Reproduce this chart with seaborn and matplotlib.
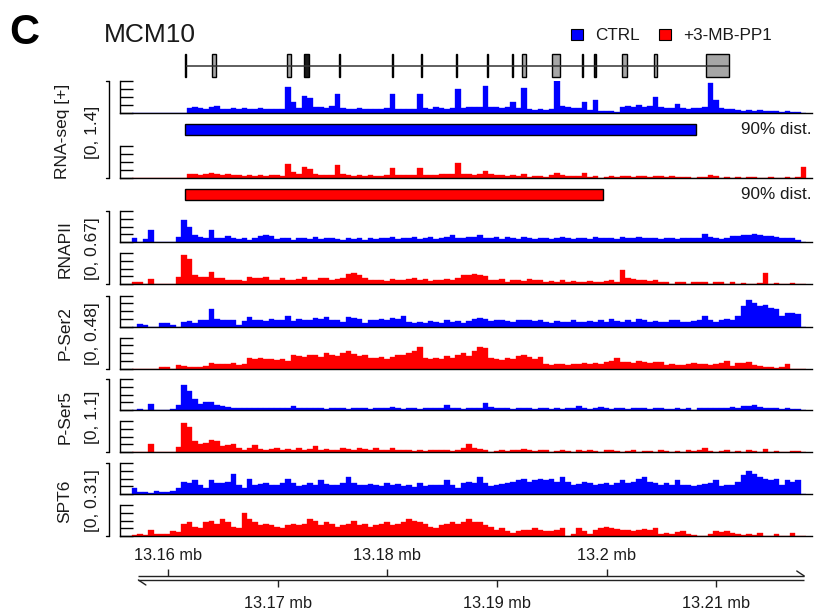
import numpy as np
import pandas as pd
import matplotlib
matplotlib.use("Agg")
import matplotlib.pyplot as plt
import seaborn as sns
from matplotlib.patches import Rectangle

sns.set_theme(style="white")
plt.rcParams["font.family"] = ["Liberation Sans", "DejaVu Sans"]

# ---------------- data ----------------
BIN_START = 13.1567      # mb
BIN_SIZE = 0.0005        # mb
N_BINS = 123

gene_name = "MCM10"
gene_start, gene_end = 13.16160, 13.21116
exon_starts = [13.16155, 13.16404, 13.17088, 13.17240, 13.17559, 13.18042, 13.18306,
               13.18625, 13.18908, 13.19136, 13.19228, 13.19505, 13.19774, 13.19886,
               13.20135, 13.20430, 13.20902]
exon_ends = [13.16168, 13.16434, 13.17124, 13.17283, 13.17571, 13.18054, 13.18318,
             13.18637, 13.18920, 13.19148, 13.19268, 13.19572, 13.19786, 13.19898,
             13.20184, 13.20461, 13.21116]
exon_fill = ["k", "#a6a6a6", "#a6a6a6", "k", "k", "k", "k", "k", "k", "k",
             "#a6a6a6", "#a6a6a6", "k", "k", "#a6a6a6", "#a6a6a6", "#a6a6a6"]

dist_ctrl = (13.16155, 13.20813)
dist_drug = (13.16155, 13.19965)
dist_label = "90% dist."

ticks_top = [13.16, 13.18, 13.20]
ticks_bottom = [13.17, 13.19, 13.21]
ruler = (13.1573, 13.2180)

conditions = ["CTRL", "+3-MB-PP1"]
colors = ["#0000ff", "#ff0000"]

rnaseq_ctrl = [0, 0, 0, 0, 0, 0, 0, 0, 0, 0,
               15, 18, 16, 14, 20, 22, 14, 12, 15, 13,
               16, 12, 14, 15, 12, 14, 13, 12, 82, 35,
               16, 52, 48, 20, 18, 16, 22, 60, 16, 14,
               13, 15, 12, 14, 13, 12, 15, 58, 14, 12,
               13, 12, 58, 16, 14, 20, 15, 14, 16, 74,
               17, 20, 19, 18, 84, 18, 20, 17, 18, 35,
               15, 77, 12, 10, 11, 9, 12, 100, 22, 18,
               17, 16, 35, 8, 42, 6, 5, 6, 4, 20,
               22, 18, 24, 20, 22, 50, 18, 15, 16, 27,
               16, 14, 15, 16, 18, 95, 40, 15, 12, 14,
               8, 7, 9, 6, 8, 5, 7, 6, 4, 5,
               3, 4, 0]
rnaseq_drug = [0, 0, 0, 0, 0, 0, 0, 0, 0, 0,
               12, 14, 10, 13, 15, 12, 10, 11, 8, 9,
               6, 8, 7, 8, 6, 9, 8, 7, 43, 18,
               14, 35, 28, 12, 10, 8, 9, 40, 12, 8,
               7, 9, 6, 8, 7, 6, 8, 30, 10, 8,
               9, 10, 31, 8, 10, 9, 11, 12, 14, 47,
               13, 12, 10, 14, 22, 11, 9, 8, 6, 10,
               7, 12, 4, 6, 5, 3, 8, 15, 9, 6,
               7, 5, 15, 3, 5, 0, 4, 5, 3, 6,
               5, 4, 6, 5, 4, 6, 5, 4, 5, 3,
               4, 3, 0, 4, 3, 8, 5, 0, 4, 0,
               3, 0, 4, 3, 0, 0, 3, 0, 0, 3,
               0, 4, 33]

rnapii_ctrl = [14, 0, 11, 38, 0, 0, 0, 0, 15, 70,
               50, 22, 15, 14, 38, 14, 12, 20, 12, 10,
               12, 8, 14, 20, 22, 20, 10, 14, 12, 8,
               12, 14, 10, 16, 10, 12, 14, 10, 8, 12,
               10, 12, 8, 12, 10, 14, 12, 16, 10, 14,
               12, 16, 10, 12, 15, 11, 13, 16, 24, 12,
               14, 16, 15, 22, 14, 12, 16, 11, 15, 13,
               10, 16, 12, 11, 14, 12, 10, 13, 15, 12,
               11, 14, 12, 10, 15, 13, 14, 12, 11, 16,
               14, 12, 15, 13, 12, 14, 11, 13, 12, 10,
               13, 12, 14, 12, 27, 16, 12, 10, 14, 18,
               20, 22, 24, 27, 22, 20, 18, 16, 14, 12,
               14, 8, 0]
rnapii_drug = [8, 5, 0, 15, 0, 0, 0, 0, 22, 95,
               80, 30, 22, 22, 38, 20, 18, 14, 12, 14,
               10, 22, 20, 18, 24, 14, 12, 18, 14, 12,
               16, 22, 12, 14, 20, 18, 12, 16, 20, 32,
               36, 30, 18, 14, 12, 12, 10, 16, 12, 14,
               16, 18, 12, 15, 10, 14, 12, 16, 13, 18,
               28, 30, 33, 30, 26, 14, 12, 15, 8, 14,
               12, 10, 16, 12, 14, 6, 10, 8, 12, 6,
               10, 8, 5, 10, 8, 6, 10, 12, 8, 45,
               18, 16, 14, 12, 10, 14, 8, 5, 0, 8,
               6, 0, 7, 5, 8, 0, 6, 8, 0, 5,
               0, 4, 0, 0, 4, 35, 0, 3, 0, 0,
               3, 0, 0]

pser2_ctrl = [0, 8, 4, 0, 0, 12, 10, 6, 0, 15,
              18, 10, 20, 22, 55, 25, 22, 20, 20, 5,
              18, 30, 20, 22, 18, 25, 20, 22, 35, 18,
              25, 22, 20, 28, 25, 30, 20, 22, 15, 30,
              28, 25, 12, 20, 22, 24, 22, 28, 24, 35,
              15, 12, 14, 10, 18, 16, 10, 20, 15, 18,
              12, 18, 25, 28, 25, 18, 22, 20, 18, 15,
              20, 22, 20, 18, 22, 14, 12, 18, 15, 16,
              20, 15, 16, 18, 14, 20, 14, 25, 18, 16,
              20, 15, 25, 22, 16, 18, 15, 14, 20, 22,
              14, 16, 18, 22, 35, 20, 15, 22, 25, 20,
              35, 65, 85, 75, 65, 70, 60, 55, 35, 42,
              45, 40, 0]
pser2_drug = [0, 0, 0, 0, 0, 5, 4, 0, 10, 8,
              4, 5, 6, 8, 18, 15, 14, 16, 18, 12,
              14, 35, 30, 35, 32, 30, 28, 30, 25, 45,
              40, 38, 42, 45, 38, 50, 45, 40, 50, 55,
              48, 40, 42, 35, 35, 38, 30, 38, 42, 45,
              50, 55, 70, 35, 30, 35, 30, 40, 35, 45,
              50, 40, 55, 70, 65, 35, 30, 28, 35, 30,
              40, 42, 38, 30, 38, 15, 12, 14, 15, 12,
              14, 16, 18, 15, 18, 16, 22, 25, 35, 22,
              22, 18, 25, 20, 18, 20, 22, 12, 14, 10,
              12, 14, 18, 16, 14, 10, 15, 18, 25, 8,
              18, 18, 20, 10, 8, 6, 5, 3, 4, 15,
              0, 0, 0]

pser5_ctrl = [0, 3, 0, 20, 0, 0, 0, 3, 15, 80,
              60, 35, 20, 25, 25, 15, 12, 10, 8, 5,
              5, 6, 6, 5, 6, 5, 6, 5, 8, 14,
              8, 6, 5, 6, 5, 4, 6, 5, 5, 4,
              6, 5, 5, 4, 6, 5, 6, 10, 5, 4,
              5, 6, 4, 5, 6, 5, 8, 15, 6, 5,
              4, 6, 5, 8, 22, 10, 6, 5, 6, 4,
              5, 6, 5, 4, 6, 5, 3, 5, 4, 6,
              5, 12, 5, 4, 5, 10, 5, 4, 6, 5,
              4, 6, 5, 6, 4, 5, 6, 4, 3, 5,
              4, 6, 0, 5, 6, 5, 7, 6, 8, 10,
              8, 12, 14, 15, 10, 8, 6, 5, 4, 5,
              3, 4, 0]
pser5_drug = [0, 0, 0, 25, 0, 0, 0, 0, 15, 95,
              80, 35, 25, 30, 40, 35, 20, 22, 25, 12,
              8, 12, 22, 10, 8, 10, 12, 6, 10, 8,
              12, 6, 10, 18, 8, 10, 6, 8, 12, 10,
              8, 12, 10, 8, 12, 8, 6, 12, 8, 5,
              6, 4, 5, 3, 5, 6, 8, 5, 4, 6,
              12, 25, 12, 10, 6, 0, 4, 5, 3, 6,
              8, 10, 5, 4, 6, 5, 0, 4, 5, 3,
              0, 5, 4, 6, 3, 0, 5, 8, 4, 0,
              3, 5, 0, 4, 3, 0, 5, 3, 0, 4,
              0, 5, 3, 6, 12, 4, 0, 3, 5, 0,
              4, 0, 5, 3, 0, 10, 0, 3, 0, 0,
              4, 3, 0]

spt6_ctrl = [20, 5, 6, 4, 10, 8, 8, 10, 20, 40,
             35, 45, 30, 18, 45, 35, 35, 38, 65, 30,
             20, 50, 30, 32, 35, 30, 28, 35, 50, 35,
             25, 30, 35, 30, 45, 32, 30, 28, 35, 55,
             35, 30, 28, 32, 30, 25, 35, 30, 32, 25,
             30, 22, 35, 25, 28, 30, 28, 45, 30, 20,
             35, 40, 35, 55, 35, 25, 30, 32, 35, 40,
             45, 50, 40, 45, 50, 45, 50, 40, 55, 40,
             30, 32, 40, 35, 30, 32, 35, 30, 35, 45,
             35, 40, 50, 55, 40, 35, 30, 35, 30, 45,
             30, 28, 25, 30, 32, 35, 45, 25, 28, 30,
             40, 60, 75, 65, 55, 50, 45, 50, 30, 45,
             40, 45, 0]
spt6_drug = [3, 5, 4, 20, 5, 6, 6, 15, 12, 40,
             45, 30, 25, 45, 50, 40, 55, 45, 30, 25,
             75, 55, 45, 35, 40, 35, 30, 25, 35, 40,
             35, 40, 55, 50, 35, 45, 40, 30, 35, 40,
             50, 35, 40, 30, 35, 40, 45, 35, 40, 45,
             55, 50, 45, 40, 30, 25, 35, 40, 45, 40,
             45, 55, 45, 45, 35, 30, 20, 25, 15, 10,
             15, 18, 20, 25, 20, 15, 15, 18, 25, 0,
             5, 25, 15, 5, 18, 25, 30, 25, 22, 18,
             20, 15, 20, 22, 20, 25, 8, 10, 5, 12,
             15, 8, 3, 0, 0, 5, 15, 12, 15, 10,
             5, 4, 8, 3, 10, 0, 0, 6, 0, 0,
             10, 0, 0]

chip_tracks = [
    ("RNAPII", "[0, 0.67]", rnapii_ctrl, rnapii_drug),
    ("P-Ser2", "[0, 0.48]", pser2_ctrl, pser2_drug),
    ("P-Ser5", "[0, 1.1]", pser5_ctrl, pser5_drug),
    ("SPT6", "[0, 0.31]", spt6_ctrl, spt6_drug),
]

# ---------------- layout ----------------
W, H = 818, 615
VIEW = (13.144685, 13.219253)          # genomic span of the full figure width
def mb_at(px):
    return VIEW[0] + px / W * (VIEW[1] - VIEW[0])
MB_PER_PX = (VIEW[1] - VIEW[0]) / W

TRACK_X0, TRACK_X1 = 119.5, 812
edges = [BIN_START + BIN_SIZE * i for i in range(N_BINS + 1)]
centers = [(edges[i] + edges[i + 1]) / 2 for i in range(N_BINS)]

fig = plt.figure(figsize=(W / 100, H / 100), dpi=100)

pix = fig.add_axes([0, 0, 1, 1])
pix.set_xlim(0, W); pix.set_ylim(H, 0); pix.axis("off")
gen = fig.add_axes([0, 0, 1, 1])
gen.set_xlim(*VIEW); gen.set_ylim(H, 0); gen.axis("off")
gen.patch.set_alpha(0)

TXT = "#1a1a1a"

def add_track(top, bottom, vals, color):
    ax = fig.add_axes([TRACK_X0 / W, 1 - bottom / H, (TRACK_X1 - TRACK_X0) / W, (bottom - top) / H])
    ax.patch.set_alpha(0)
    df = pd.DataFrame({"pos": centers, "signal": vals})
    sns.histplot(data=df, x="pos", weights="signal", bins=edges, element="bars",
                 fill=True, color=color, edgecolor=color, linewidth=0.25, alpha=1, ax=ax)
    ax.set_xlim(mb_at(TRACK_X0), mb_at(TRACK_X1))
    ax.set_ylim(0, 100)
    ax.set_xlabel(""); ax.set_ylabel("")
    ax.set_xticks([])
    ax.set_yticks([0, 25, 50, 75, 100])
    ax.tick_params(axis="y", left=True, direction="in", length=9, width=1.0,
                   color="black", labelleft=False)
    for s in ["top", "right"]:
        ax.spines[s].set_visible(False)
    for s in ["left", "bottom"]:
        ax.spines[s].set_color("black")
        ax.spines[s].set_linewidth(1.0)
    return ax

def bracket(top, bottom):
    x = 108.5
    pix.plot([x, x], [top, bottom], color="black", lw=1.0)
    pix.plot([x - 3, x], [top, top], color="black", lw=1.0)
    pix.plot([x - 3, x], [bottom, bottom], color="black", lw=1.0)

# panel letter, gene name, legend
pix.text(9, 33, "C", fontsize=30, fontweight="bold", color="black", va="center", ha="left")
pix.text(104, 35, gene_name, fontsize=19, color=TXT, va="center", ha="left")
leg_x = [571, 659]
for (lx, lab, col) in zip(leg_x, conditions, colors):
    pix.add_patch(Rectangle((lx, 29), 12, 11, facecolor=col, edgecolor="black", lw=0.8))
    pix.text(lx + 24, 35, lab, fontsize=12.3, color=TXT, va="center", ha="left")

# gene model
GENE_Y = 65.5
gen.hlines(GENE_Y, gene_start, gene_end, color="#333333", lw=1.1)
for s, e, fc in zip(exon_starts, exon_ends, exon_fill):
    gen.add_patch(Rectangle((s, GENE_Y - 11.5), e - s, 23, facecolor=fc,
                            edgecolor="black", lw=1.0))

# RNA-seq tracks and distance bars
rna_tops = [81, 146]
rna_bottoms = [113, 178]
add_track(rna_tops[0], rna_bottoms[0], rnaseq_ctrl, colors[0])
add_track(rna_tops[1], rna_bottoms[1], rnaseq_drug, colors[1])
for (d, col, yc) in zip([dist_ctrl, dist_drug], colors, [129.5, 194.5]):
    gen.add_patch(Rectangle((d[0], yc - 5.5), d[1] - d[0], 11, facecolor=col,
                            edgecolor="black", lw=1.0))
    pix.text(741, yc, dist_label, fontsize=12.3, color=TXT, va="center", ha="left")
bracket(rna_tops[0], rna_bottoms[1])
pix.text(62, 131, "RNA-seq [+]", rotation=90, fontsize=12.5, color=TXT, va="center", ha="center")
pix.text(92, 132, "[0, 1.4]", rotation=90, fontsize=12.5, color=TXT, va="center", ha="center")

# ChIP tracks
pair_tops = [211, 295.5, 379, 463]
TRACK_H = 31
PAIR_GAP = 42
for (label, rng, ctrl, drug), top in zip(chip_tracks, pair_tops):
    add_track(top, top + TRACK_H, ctrl, colors[0])
    add_track(top + PAIR_GAP, top + PAIR_GAP + TRACK_H, drug, colors[1])
    bottom = top + PAIR_GAP + TRACK_H
    bracket(top, bottom)
    mid = (top + bottom) / 2 + 1.5
    pix.text(65, mid, label, rotation=90, fontsize=12.5, color=TXT, va="center", ha="center")
    pix.text(92, mid, rng, rotation=90, fontsize=12.5, color=TXT, va="center", ha="center")

# genomic ruler
Y_UP, Y_DN = 576, 580
gen.hlines(Y_UP, ruler[0], ruler[1], color="#222222", lw=1.0)
gen.hlines(Y_DN, ruler[0], ruler[1], color="#222222", lw=1.0)
gen.plot([ruler[1], ruler[1] - 7.5 * MB_PER_PX], [Y_UP, Y_UP - 5], color="#222222", lw=1.0)
gen.plot([ruler[0], ruler[0] + 7.5 * MB_PER_PX], [Y_DN, Y_DN + 5], color="#222222", lw=1.0)
gen.vlines(ticks_top, Y_UP - 7, Y_UP, color="#222222", lw=1.0)
gen.vlines(ticks_bottom, Y_DN, Y_DN + 7, color="#222222", lw=1.0)
for t in ticks_top:
    gen.text(t, 555, f"{t:g} mb", fontsize=11.8, color=TXT, ha="center", va="center")
for t in ticks_bottom:
    gen.text(t, 603, f"{t:g} mb", fontsize=11.8, color=TXT, ha="center", va="center")

fig.savefig("out.png", dpi=100)
